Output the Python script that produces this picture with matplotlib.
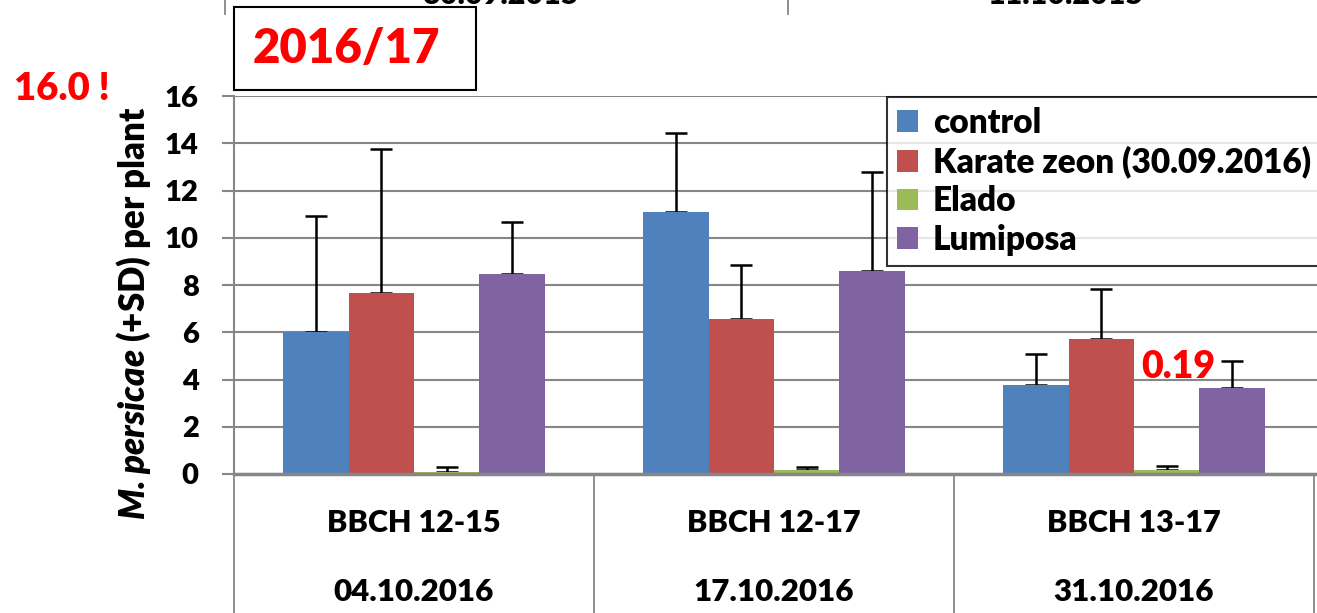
import matplotlib
matplotlib.use("Agg")
import matplotlib.pyplot as plt
import numpy as np
from matplotlib.patches import Patch, Rectangle
from matplotlib.lines import Line2D
import matplotlib.transforms as mtransforms

FW = 'heavy'
plt.rcParams['font.family'] = ['Lato', 'DejaVu Sans']
plt.rcParams['font.weight'] = FW
plt.rcParams['mathtext.fontset'] = 'custom'
plt.rcParams['mathtext.bfit'] = 'Lato:heavy:italic'

# ---- data ----
stages = ["BBCH 12-15", "BBCH 12-17", "BBCH 13-17"]
dates = ["04.10.2016", "17.10.2016", "31.10.2016"]
series = ["control", "Karate zeon (30.09.2016)", "Elado", "Lumiposa"]
control = [6.0, 11.1, 3.75]
karate = [7.65, 6.55, 5.7]
elado = [0.08, 0.17, 0.17]
lumiposa = [8.45, 8.6, 3.65]
control_sd = [4.9, 3.35, 1.35]
karate_sd = [6.1, 2.3, 2.15]
elado_sd = [0.2, 0.14, 0.17]
lumiposa_sd = [2.2, 4.2, 1.15]
yticks = [0, 2, 4, 6, 8, 10, 12, 14, 16]

colors = ["#4F81BD", "#C0504D", "#9BBB59", "#8064A2"]
grid_gray = "#868686"

W, H = 1317, 613
fig = plt.figure(figsize=(W / 100, H / 100), dpi=100)


def fx(x):
    return x / W


def fy(y):
    return 1 - y / H


ax_l, ax_r, ax_t, ax_b = 234, 1317, 96, 474
ax = fig.add_axes([fx(ax_l), fy(ax_b), fx(ax_r - ax_l), (ax_b - ax_t) / H])

cat_px = 360.0
xmax = -0.5 + (ax_r - ax_l) / cat_px
x = np.arange(len(stages))
bw = 65.45 / cat_px
vals = [control, karate, elado, lumiposa]
sds = [control_sd, karate_sd, elado_sd, lumiposa_sd]
for i, (v, sd, c, name) in enumerate(zip(vals, sds, colors, series)):
    pos = x + (i - 1.5) * bw
    ax.bar(pos, v, width=bw, color=c, label=name, zorder=3, linewidth=0)
    ax.errorbar(pos, v, yerr=[np.zeros(len(sd)), sd], fmt='none', ecolor='black',
                elinewidth=1.8, capsize=8, capthick=1.8, zorder=2.5)

ax.set_xlim(-0.5, xmax)
ax.set_ylim(0, 16)
ax.set_yticks(yticks)
ax.set_yticklabels([str(t) for t in yticks], fontsize=21, fontweight=FW)
ax.yaxis.grid(True, color=grid_gray, linewidth=1.5, zorder=0)
ax.set_axisbelow(True)
ax.tick_params(axis='y', direction='out', length=8.5, width=1.5, color=grid_gray, pad=17)
ax.tick_params(axis='x', bottom=False, labelbottom=False)
for s in ['top', 'right']:
    ax.spines[s].set_visible(False)
ax.spines['left'].set_color(grid_gray)
ax.spines['left'].set_linewidth(1.5)
ax.spines['bottom'].set_color(grid_gray)
ax.spines['bottom'].set_linewidth(2.5)
ax.spines['bottom'].set_zorder(5)

# table below axis
trans = mtransforms.blended_transform_factory(ax.transData, ax.transAxes)
for xv in [-0.5, 0.5, 1.5, 2.5]:
    ax.add_line(Line2D([xv, xv], [0, -0.5], transform=trans, color=grid_gray,
                       linewidth=1.3, clip_on=False))
for i in range(len(stages)):
    ax.text(i, (ax_b - 523) / (ax_b - ax_t), stages[i], transform=trans, ha='center',
            va='center', fontsize=22, fontweight=FW)
    ax.text(i, (ax_b - 592) / (ax_b - ax_t), dates[i], transform=trans, ha='center',
            va='center', fontsize=22.5, fontweight=FW)

# y label
fig.text(fx(134), fy(313), r"$\mathbfit{M. persicae}$ (+SD) per plant", rotation=90,
         ha='center', va='center', fontsize=25, fontweight=FW)

# red annotations
fig.text(fx(62), fy(89), "16.0 !", color='red', fontsize=27.5, fontweight=FW,
         ha='center', va='center')
fig.text(fx(1178), fy(367), "0.19", color='red', fontsize=27, fontweight=FW,
         ha='center', va='center')

# title box
fig.patches.append(Rectangle((fx(234), fy(90)), fx(476 - 234), (90 - 7) / H,
                             transform=fig.transFigure, fill=False, edgecolor='black',
                             linewidth=1.5, zorder=5))
fig.text(fx(346), fy(49), "2016/17", color='red', fontsize=34, fontweight=FW,
         ha='center', va='center')

# partially visible top remnants
fig.text(fx(500), fy(4), "30.09.2015", fontsize=22, fontweight=FW, ha='center',
         va='baseline')
fig.text(fx(1066), fy(4), "11.10.2015", fontsize=22, fontweight=FW, ha='center',
         va='baseline')
for xv in [225, 788]:
    fig.add_artist(Line2D([fx(xv), fx(xv)], [fy(0), fy(14)], transform=fig.transFigure,
                          color=grid_gray, linewidth=1.3))

# legend
handles = [Patch(facecolor=c, edgecolor='none') for c in colors]
leg = fig.legend(handles, series, loc='upper left', bbox_to_anchor=(fx(887), fy(97)),
                 prop={'size': 24, 'weight': FW}, frameon=True, fancybox=False,
                 edgecolor='black', borderpad=0.3, labelspacing=0.2,
                 handlelength=0.62, handleheight=0.62, handletextpad=0.45,
                 borderaxespad=0)
leg.get_frame().set_linewidth(1.5)
leg.set_zorder(6)

fig.savefig("out.png", dpi=100)
